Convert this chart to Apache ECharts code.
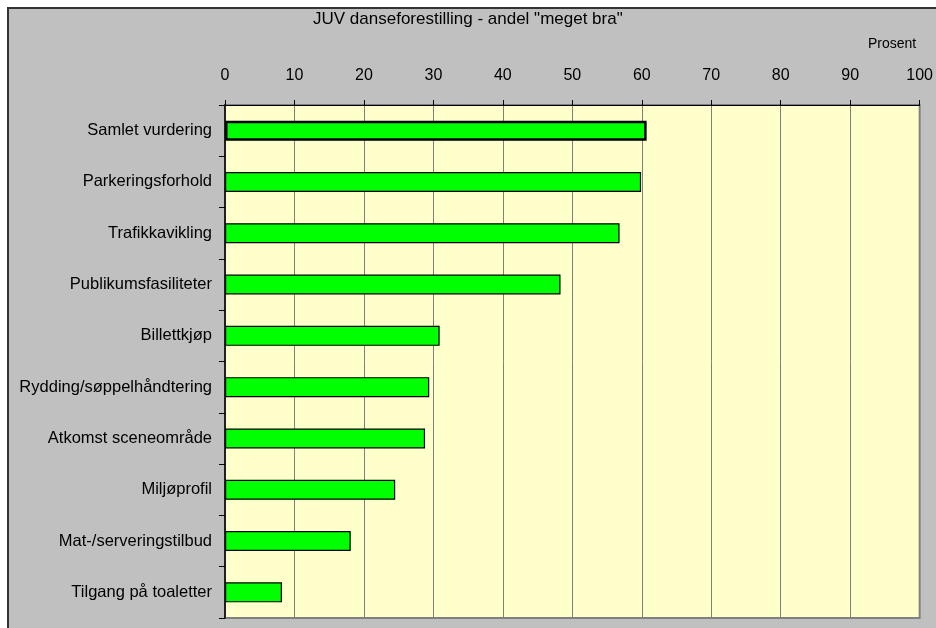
<!DOCTYPE html>
<html>
<head>
<meta charset="utf-8">
<script src="https://cdn.jsdelivr.net/npm/echarts@6/dist/echarts.min.js"></script>
<style>
  html, body { margin: 0; padding: 0; background: #fff; }
  #chart { width: 936px; height: 628px; }
</style>
</head>
<body>
<div id="chart"></div>
<script>
const categories = [
    'Samlet vurdering',
    'Parkeringsforhold',
    'Trafikkavikling',
    'Publikumsfasiliteter',
    'Billettkjøp',
    'Rydding/søppelhåndtering',
    'Atkomst sceneområde',
    'Miljøprofil',
    'Mat-/serveringstilbud',
    'Tilgang på toaletter'
];
const values = [60.7, 59.9, 56.8, 48.3, 30.9, 29.4, 28.8, 24.5, 18.1, 8.2];

const chart = echarts.init(document.getElementById('chart'), null, { renderer: 'canvas' });

const font = 'Liberation Sans, Arial, sans-serif';

const barData = values.map((v, i) => {
    // first bar has a heavier outline
    if (i === 0) {
        return { value: v, itemStyle: { borderWidth: 2.5 } };
    }
    return v;
});

const option = {
    animation: false,
    backgroundColor: '#ffffff',
    graphic: [{
        type: 'rect',
        z: -10,
        shape: { x: 8, y: 8, width: 940, height: 640 },
        style: { fill: '#c0c0c0', stroke: '#333333', lineWidth: 2 }
    }, {
        type: 'text',
        left: 313,
        top: 11,
        style: {
            text: 'JUV danseforestilling - andel "meget bra"',
            font: '17px ' + font,
            fill: '#000'
        }
    }, {
        type: 'text',
        left: 868,
        top: 37,
        style: {
            text: 'Prosent',
            font: '14px ' + font,
            fill: '#000'
        }
    }],
    grid: {
        left: 225,
        top: 105,
        right: 14,
        bottom: 10,
        show: true,
        backgroundColor: '#ffffcc',
        borderColor: '#808080',
        borderWidth: 2
    },
    xAxis: {
        type: 'value',
        position: 'top',
        min: 0,
        max: 100,
        interval: 10,
        axisLine: { show: true, lineStyle: { color: '#000', width: 1 } },
        axisTick: { show: true, length: 5, lineStyle: { color: '#000' } },
        axisLabel: {
            color: '#000',
            fontSize: 16,
            fontFamily: font,
            margin: 21
        },
        splitLine: { show: true, lineStyle: { color: '#808080', width: 1 } }
    },
    yAxis: {
        type: 'category',
        data: categories,
        inverse: true,
        axisLine: { show: true, lineStyle: { color: '#000', width: 1.5 } },
        axisTick: { show: true, length: 6, lineStyle: { color: '#000' } },
        axisLabel: {
            color: '#000',
            fontSize: 16.5,
            fontFamily: font,
            margin: 13
        },
        splitLine: { show: false }
    },
    series: [{
        type: 'bar',
        data: barData,
        barWidth: 20,
        itemStyle: {
            color: '#00ff00',
            borderColor: '#000',
            borderWidth: 1.2
        }
    }]
};

chart.setOption(option);
</script>
</body>
</html>
